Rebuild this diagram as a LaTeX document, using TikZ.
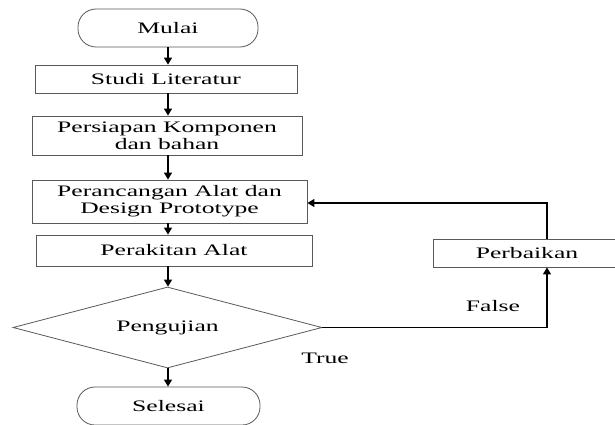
\documentclass[tikz,border=0pt]{standalone}
\usepackage{fontspec}
\setmainfont{Liberation Serif}[FakeStretch=1.6]
\usetikzlibrary{shapes.geometric,arrows.meta}
\begin{document}
\begin{tikzpicture}[x=1pt,y=-1pt,
  font=\fontsize{16}{17}\selectfont,
  box/.style={draw=black!65, line width=0.8pt, rectangle, inner sep=0pt, align=center},
  term/.style={draw=black!65, line width=0.8pt, rectangle, rounded corners=18pt, inner sep=0pt, align=center},
  dia/.style={draw=black!65, line width=0.8pt, diamond, aspect=3.8, inner sep=0pt},
  arr/.style={line width=1.3pt, -{Triangle[width=8pt,length=7pt]}},
  lbl/.style={inner sep=0pt}]
\clip (0,0) rectangle (615,425);
\node[term, minimum width=180pt, minimum height=38pt] (mulai) at (168,28) {Mulai};
\node[box, minimum width=262pt, minimum height=28pt] (studi) at (166,79) {Studi Literatur};
\node[box, minimum width=270pt, minimum height=39pt] (persiapan) at (167,135.5) {Persiapan Komponen\\dan bahan};
\node[box, minimum width=275pt, minimum height=43pt] (peranc) at (169.5,201.5) {Perancangan Alat dan\\Design Prototype};
\node[box, minimum width=276pt, minimum height=31pt] (perakitan) at (174,250.5) {Perakitan Alat};
\node[dia, minimum width=309pt, minimum height=81pt] (uji) at (167.5,327.5) {Pengujian};
\node[term, minimum width=183pt, minimum height=38pt] (selesai) at (168.5,406) {Selesai};
\node[box, minimum width=188pt, minimum height=28pt] (perb) at (527,253) {Perbaikan};
\node[lbl] (false) at (493,306) {False};
\node[lbl] (true) at (325,358) {True};
\draw[arr] (mulai.south) -- (mulai.south |- studi.north);
\draw[arr] (studi.south -| mulai) -- (persiapan.north -| mulai);
\draw[arr] (persiapan.south -| mulai) -- (peranc.north -| mulai);
\draw[arr] (peranc.south -| mulai) -- (perakitan.north -| mulai);
\draw[arr] (perakitan.south -| mulai) -- (uji.north -| mulai);
\draw[arr] (uji.south -| mulai) -- (selesai.north -| mulai);
\draw[arr] (uji.east) -| ([xshift=20pt]perb.south);
\draw[arr] ([xshift=20pt]perb.north) |- ([yshift=-1.5pt]peranc.east);
\end{tikzpicture}
\end{document}
